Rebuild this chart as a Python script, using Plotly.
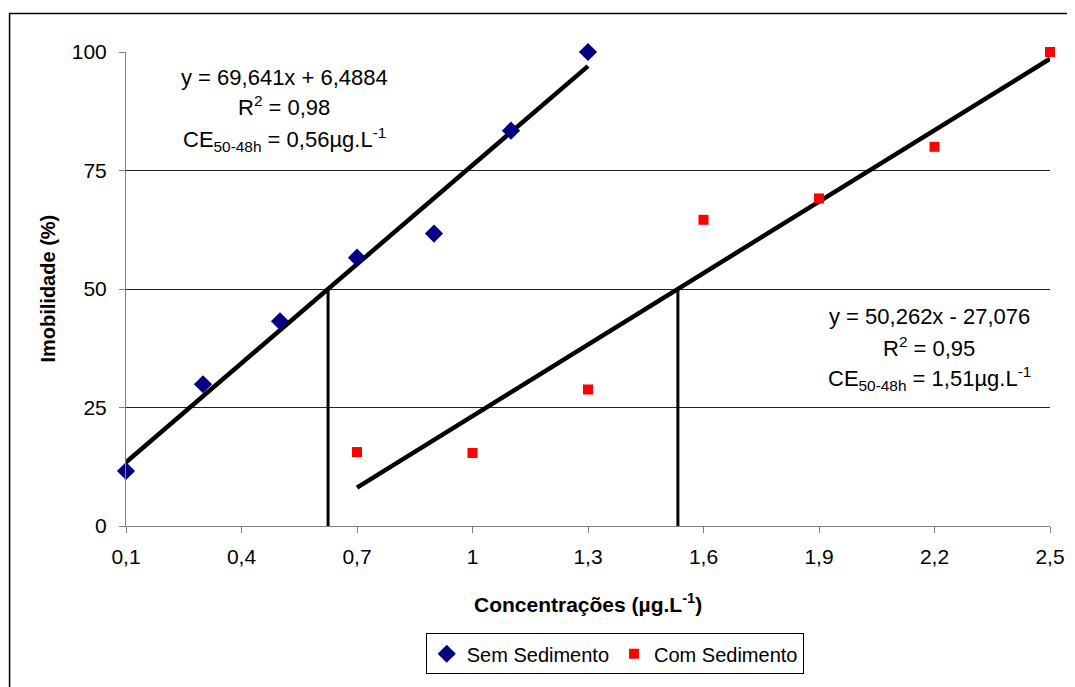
import plotly.graph_objects as go

# Data
x_sem = [0.1, 0.3, 0.5, 0.7, 0.9, 1.1, 1.3]
y_sem = [11.6, 29.9, 43.2, 56.6, 61.7, 83.4, 100]
x_com = [0.7, 1.0, 1.3, 1.6, 1.9, 2.2, 2.5]
y_com = [15.6, 15.4, 28.8, 64.6, 69.1, 80.0, 100]
trend_sem = (69.641, 6.4884)
trend_com = (50.262, -27.076)
x_ticks = [0.1, 0.4, 0.7, 1.0, 1.3, 1.6, 1.9, 2.2, 2.5]
x_ticklabels = ["0,1", "0,4", "0,7", "1", "1,3", "1,6", "1,9", "2,2", "2,5"]
y_ticks = [0, 25, 50, 75, 100]
eq_sem = ["y = 69,641x + 6,4884", "R<sup>2</sup> = 0,98", "CE<sub>50-48h</sub> = 0,56µg.L<sup>-1</sup>"]
eq_com = ["y = 50,262x - 27,076", "R<sup>2</sup> = 0,95", "CE<sub>50-48h</sub> = 1,51µg.L<sup>-1</sup>"]

FONT = "Liberation Sans, Arial, sans-serif"

# screen geometry (page has 8px body margin)
PL, PR, PT, PB = 125.5, 1050, 51.5, 526.5
W, H = 1067, 679
def px(x):
    return (x - PL) / (PR - PL)
def py(y):
    return (PB - y) / (PB - PT)

fig = go.Figure()

def line_pts(coef, xs):
    a, b = coef
    return [min(xs), max(xs)], [a * min(xs) + b, a * max(xs) + b]

for coef, xs in ((trend_sem, x_sem), (trend_com, x_com)):
    tx, ty = line_pts(coef, xs)
    fig.add_trace(go.Scatter(x=tx, y=ty, mode="lines", line=dict(color="black", width=4.5),
                             showlegend=False, hoverinfo="skip"))

# vertical lines at y=50 crossing
for a, b in (trend_sem, trend_com):
    xv = (50 - b) / a
    fig.add_trace(go.Scatter(x=[xv, xv], y=[0, 50], mode="lines",
                             line=dict(color="black", width=3),
                             showlegend=False, hoverinfo="skip"))

fig.add_trace(go.Scatter(x=x_sem, y=y_sem, mode="markers", name="Sem Sedimento",
                         marker=dict(symbol="diamond", color="#000080", size=14),
                         cliponaxis=False))
fig.add_trace(go.Scatter(x=x_com, y=y_com, mode="markers", name="Com Sedimento",
                         marker=dict(symbol="square", color="#ff0000", size=10),
                         cliponaxis=False))

annotations = [
    dict(xref="paper", yref="paper", x=px(47), y=py(289), xanchor="center", yanchor="middle",
         text="<b>Imobilidade (%)</b>", textangle=-90, showarrow=False, font=dict(size=20)),
    dict(xref="paper", yref="paper", x=px(588), y=py(604), xanchor="center", yanchor="middle",
         text="<b>Concentrações (µg.L<sup>-1</sup>)</b>", showarrow=False, font=dict(size=21)),
]
for txt, yy in zip(eq_sem, [77, 106, 139]):
    annotations.append(dict(xref="paper", yref="paper", x=px(284), y=py(yy), xanchor="center",
                            yanchor="middle", text=txt, showarrow=False, font=dict(size=22)))
for txt, yy in zip(eq_com, [317, 347, 379]):
    annotations.append(dict(xref="paper", yref="paper", x=px(929), y=py(yy), xanchor="center",
                            yanchor="middle", text=txt, showarrow=False, font=dict(size=22)))

fig.update_layout(
    width=W, height=H,
    margin=dict(l=PL - 8, r=W - (PR - 8), t=PT - 8, b=H - (PB - 8), autoexpand=False),
    paper_bgcolor="white", plot_bgcolor="white",
    font=dict(family=FONT, size=21, color="black"),
    showlegend=True,
    legend=dict(orientation="h", x=px(614.5), xanchor="center", y=py(634), yanchor="top",
                bordercolor="black", borderwidth=1, bgcolor="white",
                font=dict(size=20), itemwidth=30, tracegroupgap=0),
    xaxis=dict(range=[0.1, 2.5], tickvals=x_ticks, ticktext=x_ticklabels,
               showgrid=False, zeroline=False, showline=True, linecolor="#808080",
               linewidth=1, ticks="outside", ticklen=6, tickcolor="#808080",
               tickfont=dict(size=21), ticklabelstandoff=6),
    yaxis=dict(range=[0, 100], tickvals=y_ticks, showgrid=True, gridcolor="#222222",
               gridwidth=1, zeroline=False, showline=True, linecolor="#808080",
               linewidth=1, ticks="outside", ticklen=6, tickcolor="#808080",
               tickfont=dict(size=21), ticklabelstandoff=8),
    annotations=annotations,
    shapes=[
        dict(type="rect", xref="paper", yref="paper",
             x0=px(9), x1=px(1100), y0=py(720), y1=py(13),
             line=dict(color="black", width=1.5), fillcolor="rgba(0,0,0,0)", layer="below"),
    ],
)

fig.write_html("out.html")
